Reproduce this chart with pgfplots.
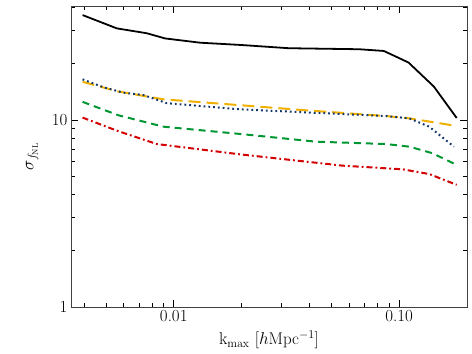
\documentclass[border=0pt]{standalone}
\usepackage{pgfplots}
\pgfplotsset{compat=1.18}
\definecolor{corange}{RGB}{240,176,0}
\definecolor{cblue}{RGB}{20,55,105}
\definecolor{cgreen}{RGB}{0,150,50}
\definecolor{cred}{RGB}{210,0,0}

\begin{document}
\begin{tikzpicture}
\useasboundingbox (-71bp,-47bp) rectangle (401bp,307bp);
\begin{axis}[
  at={(0,0)}, anchor=south west,
  scale only axis, width=396bp, height=301bp,
  xmode=log, ymode=log,
  xmin=0.0035, xmax=0.2, ymin=1, ymax=40.7,
  xtick={0.01,0.1}, xticklabels={0.01,0.10},
  ytick={1,10}, yticklabels={1,10},
  minor xtick={0.004,0.005,0.006,0.007,0.008,0.009,0.02,0.03,0.04,0.05,0.06,0.07,0.08,0.09,0.2},
  minor ytick={2,3,4,5,6,7,8,9,20,30,40},
  major tick length=7bp, minor tick length=4bp,
  tick style={black, line width=0.6pt},
  axis line style={line width=0.8pt, black!75},
  tick label style={font=\fontsize{17}{19}\selectfont},
  label style={font=\fontsize{17}{19}\selectfont},
  xlabel={$\mathrm{k}_{\mathrm{max}}$ [$h$Mpc$^{\mathrm{-1}}$]},
  ylabel={$\sigma_{f_{\mathrm{NL}}}$},
  xlabel style={at={(axis description cs:0.5,-0.11)}, anchor=center},
  ylabel style={at={(axis description cs:-0.098,0.5)}, anchor=center},
]
% black solid
\addplot[black, line width=1.8pt] coordinates {
  (0.00394,36.4) (0.00559,30.9) (0.00759,29.1) (0.00915,27.3) (0.0131,25.9)
  (0.0197,25.2) (0.0324,24.2) (0.0663,23.9) (0.0855,23.4) (0.110,20.3)
  (0.1425,15.1) (0.180,10.25)
};
% orange long dashed
\addplot[corange, line width=2pt, dash pattern=on 12bp off 6bp] coordinates {
  (0.00394,16.0) (0.00568,14.2) (0.00899,12.9) (0.0197,12.0) (0.0373,11.3)
  (0.0873,10.5) (0.111,10.2) (0.180,9.29)
};
% blue dotted
\addplot[cblue, line width=2pt, dash pattern=on 1.8bp off 3bp] coordinates {
  (0.00394,16.5) (0.00488,14.96) (0.00598,14.0) (0.00733,13.6) (0.00931,12.3)
  (0.0197,11.4) (0.0442,10.9) (0.0873,10.5) (0.111,10.2) (0.136,9.21)
  (0.175,7.2)
};
% green dashed
\addplot[cgreen, line width=2pt, dash pattern=on 7bp off 5bp] coordinates {
  (0.00394,12.5) (0.00568,10.6) (0.00899,9.21) (0.0197,8.42) (0.0427,7.66)
  (0.0873,7.44) (0.111,7.2) (0.1406,6.64) (0.180,5.75)
};
% red dash-dot
\addplot[cred, line width=2pt, dash pattern=on 6bp off 3bp on 1.8bp off 3bp] coordinates {
  (0.00394,10.3) (0.00559,8.77) (0.0084,7.44) (0.0197,6.55) (0.0561,5.70)
  (0.1035,5.45) (0.136,5.14) (0.180,4.5)
};
\end{axis}
\end{tikzpicture}
\end{document}
